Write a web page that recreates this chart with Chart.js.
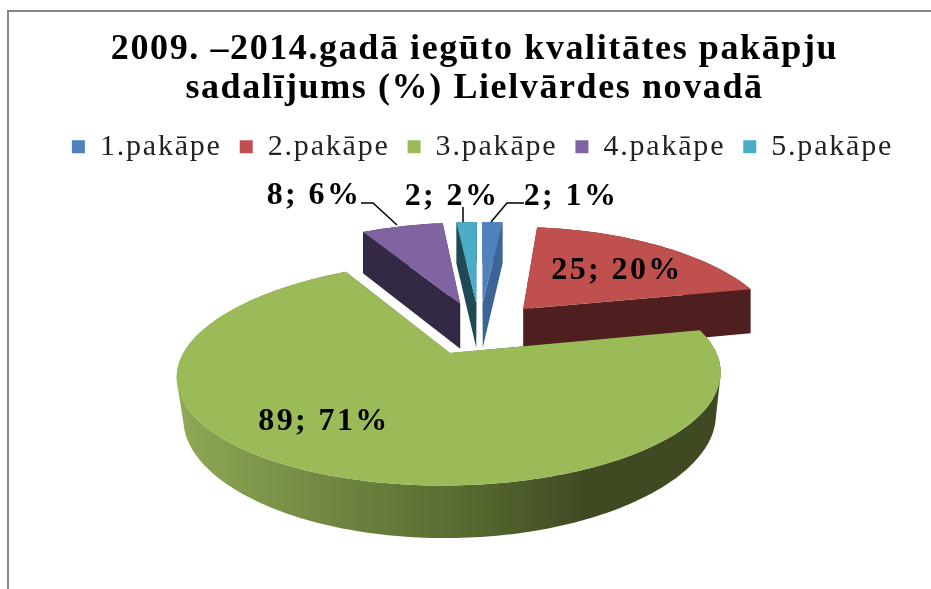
<!DOCTYPE html>
<html><head><meta charset="utf-8">
<style>html,body{margin:0;padding:0;background:#fff}canvas{display:block}</style>
<script src="https://cdn.jsdelivr.net/npm/chart.js@4"></script>
</head><body><canvas id="c" width="931" height="589"></canvas>
<script>
const categories = ['1.pakāpe','2.pakāpe','3.pakāpe','4.pakāpe','5.pakāpe'];
const values = [2,25,89,8,2];
const percents = [1,20,71,6,2];
const colors = ['#4f81bd','#c0504d','#9bbb59','#8064a2','#4bacc6'];
const wallColors = ['#3a6596','#4f1f1f','#5a6c33','#332944','#1f4a55'];
const titleLines = ['2009. –2014.gadā iegūto kvalitātes pakāpju','sadalījums (%) Lielvārdes novadā'];

const P = {ox:479.5,oy:328,k:254,a:-96.5,c:0.19,e:0.27,H:46,hc:0.1};
function proj(u,v,lower){
  const d=1+P.c*v, s=lower?1-0.05*Math.max(0,-v):1, far=v>0?4.5*v*v:0;
  return [P.ox+P.k*u/d*s, P.oy+P.a*v/d-far+(lower?P.H/(1+P.hc*v):0)];
}
function outline(arc){
  const s=arc.startAngle+Math.PI/2, t=arc.endAngle+Math.PI/2, m=(s+t)/2;
  const cu=P.e*Math.sin(m), cv=P.e*Math.cos(m), pts=[[cu,cv]];
  const n=Math.max(4,Math.ceil((t-s)/0.02));
  for(let j=0;j<=n;j++){const q=s+(t-s)*j/n;pts.push([cu+Math.sin(q),cv+Math.cos(q)]);}
  return pts;
}
function poly(ctx,pts){ctx.beginPath();pts.forEach((p,i)=>i?ctx.lineTo(p[0],p[1]):ctx.moveTo(p[0],p[1]));ctx.closePath();}
function addQuad(ctx,q){
  let area=0;
  q.forEach((p,i)=>{const n=q[(i+1)%4];area+=p[0]*n[1]-n[0]*p[1];});
  const r=area<0?q.slice().reverse():q;
  ctx.moveTo(r[0][0],r[0][1]);ctx.lineTo(r[1][0],r[1][1]);ctx.lineTo(r[2][0],r[2][1]);ctx.lineTo(r[3][0],r[3][1]);ctx.closePath();
}
const labelAt = [[571,197],[617,271],[324,422],[314,196],[452,197]];
const leaders = [[[524,203],[507,203],[491,222]],[[463,207],[463,222]],[[361,203],[373,203],[397,225]]];

function wrap(ctx,box,spacing,dx){
  if(box.__wrapped) return; box.__wrapped=true;
  const fit=box.fit, draw=box.draw;
  box.fit=function(...a){ctx.save();ctx.letterSpacing=spacing;const r=fit.apply(this,a);ctx.restore();return r;};
  box.draw=function(...a){ctx.save();ctx.letterSpacing=spacing;ctx.translate(dx,0);const r=draw.apply(this,a);ctx.restore();return r;};
}
const pie3d = {
  id:'pie3d',
  beforeLayout(chart){
    wrap(chart.ctx,chart.titleBlock,'1.6px',0);
    wrap(chart.ctx,chart.legend,'1.8px',8);
  },
  beforeDraw(chart){
    const ctx=chart.ctx;
    ctx.save();ctx.fillStyle='#fff';ctx.fillRect(0,0,chart.width,chart.height);
    ctx.strokeStyle='#868686';ctx.lineWidth=2;ctx.beginPath();
    ctx.moveTo(8,chart.height);ctx.lineTo(8,11);ctx.lineTo(chart.width,11);ctx.stroke();ctx.restore();
  },
  beforeDatasetsDraw(chart){
    const ctx=chart.ctx, arcs=chart.getDatasetMeta(0).data;
    ctx.save();
    [3,4,0,1,2].forEach(i=>{
      const pts=outline(arcs[i]);
      const top=pts.map(p=>proj(p[0],p[1],false)), low=pts.map(p=>proj(p[0],p[1],true));
      let fill=wallColors[i];
      if(i===2){
        const g=ctx.createLinearGradient(178,0,722,0);
        g.addColorStop(0,'#8fa956');g.addColorStop(0.3,'#6f8440');g.addColorStop(0.55,'#55672f');g.addColorStop(0.75,'#3f4a23');g.addColorStop(1,'#3f4a23');
        fill=g;
      }
      ctx.fillStyle=fill;
      ctx.beginPath();
      for(let j=0;j<top.length;j++){
        const n=(j+1)%top.length;
        addQuad(ctx,[top[j],top[n],low[n],low[j]]);
      }
      ctx.fill('nonzero');
      poly(ctx,top);ctx.fillStyle=colors[i];ctx.fill();
    });
    ctx.strokeStyle='#000';ctx.lineWidth=1.5;
    leaders.forEach(l=>{ctx.beginPath();l.forEach((p,i)=>i?ctx.lineTo(p[0],p[1]):ctx.moveTo(p[0],p[1]));ctx.stroke();});
    ctx.fillStyle='#000';ctx.font='bold 32px "Liberation Serif"';ctx.textAlign='center';ctx.textBaseline='middle';
    ctx.letterSpacing='2.4px';
    values.forEach((v,i)=>ctx.fillText(v+'; '+percents[i]+'%',labelAt[i][0],labelAt[i][1]));
    ctx.restore();
    return false;
  }
};

new Chart(document.getElementById('c'),{
  type:'pie',
  data:{labels:categories,datasets:[{data:values,backgroundColor:colors,borderWidth:0}]},
  plugins:[pie3d],
  options:{
    responsive:false,animation:false,
    layout:{padding:{left:18,top:30}},
    plugins:{
      title:{display:true,text:titleLines,color:'#000',font:{family:'"Liberation Serif"',size:36,weight:'bold',lineHeight:1.08},padding:{top:0,bottom:6}},
      legend:{position:'top',labels:{color:'#222',boxWidth:13,boxHeight:13,padding:18,font:{family:'"Liberation Serif"',size:30}}},
      tooltip:{enabled:false}
    }
  }
});
</script></body></html>
